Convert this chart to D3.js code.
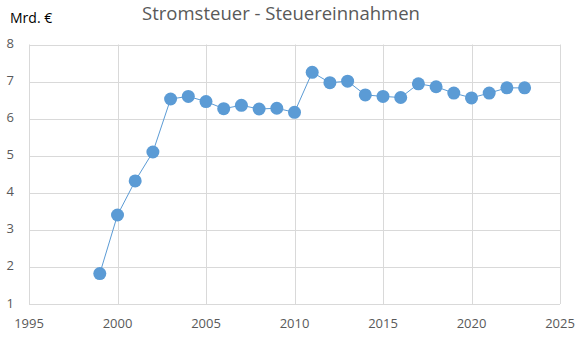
<!DOCTYPE html>
<html><head><meta charset="utf-8">
<script src="https://cdn.jsdelivr.net/npm/d3@7"></script>
<style>body{margin:0;background:#fff}svg{display:block}</style>
</head><body>
<svg id="c" width="583" height="338"></svg>
<script>
const years = [1999,2000,2001,2002,2003,2004,2005,2006,2007,2008,2009,2010,2011,2012,2013,2014,2015,2016,2017,2018,2019,2020,2021,2022,2023];
const values = [1.82,3.40,4.32,5.10,6.53,6.60,6.46,6.27,6.36,6.26,6.28,6.17,7.25,6.97,7.01,6.64,6.60,6.57,6.94,6.86,6.69,6.56,6.69,6.83,6.83];
const xTicks = [1995,2000,2005,2010,2015,2020,2025];
const yTicks = [1,2,3,4,5,6,7,8];
const title = "Stromsteuer - Steuereinnahmen";
const yUnit = "Mrd. €";

const svg = d3.select("#c");
const font = "'Open Sans', sans-serif";
const x = d3.scaleLinear().domain([1995,2025]).range([29,560]);
const y = d3.scaleLinear().domain([1,8]).range([304,44.5]);
const grid = "#d9d9d9";

svg.append("g").selectAll("line").data(yTicks).join("line")
  .attr("x1",x(1995)).attr("x2",x(2025)).attr("y1",d=>Math.round(y(d))+0.5).attr("y2",d=>Math.round(y(d))+0.5)
  .attr("stroke",grid).attr("stroke-width",1);
svg.append("g").selectAll("line").data(xTicks).join("line")
  .attr("y1",y(1)).attr("y2",y(8)).attr("x1",d=>Math.round(x(d))+0.5).attr("x2",d=>Math.round(x(d))+0.5)
  .attr("stroke",grid).attr("stroke-width",1);

svg.append("g").selectAll("text").data(yTicks).join("text")
  .attr("x",14).attr("y",d=>y(d)+3.5).attr("text-anchor","end")
  .attr("font-family",font).attr("font-size",13).attr("fill","#595959").text(d=>d);
svg.append("g").selectAll("text").data(xTicks).join("text")
  .attr("x",d=>x(d)).attr("y",328).attr("text-anchor","middle")
  .attr("font-family",font).attr("font-size",13).attr("fill","#595959").text(d=>d);

svg.append("text").attr("x",281).attr("y",20).attr("text-anchor","middle")
  .attr("font-family",font).attr("font-size",18.5).attr("fill","#595959").text(title);
svg.append("text").attr("x",10).attr("y",23)
  .attr("font-family",font).attr("font-size",14).attr("fill","#000").text(yUnit);

const pts = years.map((yr,i)=>[yr,values[i]]);
svg.append("path").datum(pts)
  .attr("d",d3.line().x(d=>x(d[0])).y(d=>y(d[1])))
  .attr("fill","none").attr("stroke","#5b9bd5").attr("stroke-width",1);
svg.append("g").selectAll("circle").data(pts).join("circle")
  .attr("cx",d=>x(d[0])).attr("cy",d=>y(d[1])).attr("r",6.5).attr("fill","#5b9bd5");
</script>
</body></html>
